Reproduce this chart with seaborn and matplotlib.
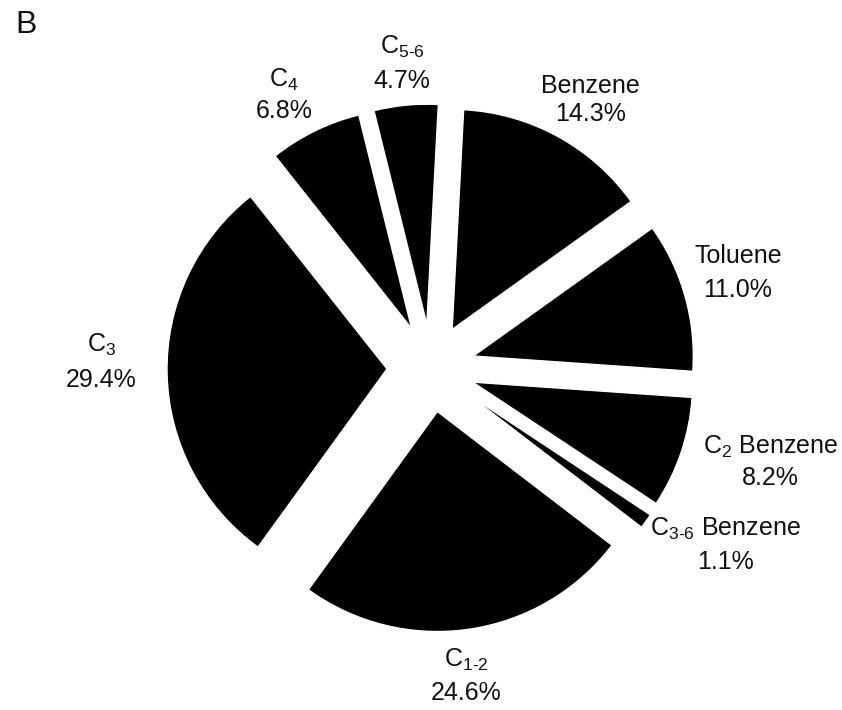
import numpy as np
import matplotlib
matplotlib.use("Agg")
import matplotlib.pyplot as plt
import seaborn as sns

# composition (%), clockwise from the top
names = ["Benzene", "Toluene", r"C$_{2}$ Benzene", r"C$_{3\text{-}6}$ Benzene",
         r"C$_{1\text{-}2}$", r"C$_{3}$", r"C$_{4}$", r"C$_{5\text{-}6}$"]
shares = [14.3, 11.0, 8.2, 1.1, 24.6, 29.4, 6.8, 4.7]
pct_text = ["14.3%", "11.0%", "8.2%", "1.1%", "24.6%", "29.4%", "6.8%", "4.7%"]

# label placement: distance (in radii) from the slice tip, angle nudge (deg), line gap
lab_dist = [1.22, 1.26, 1.40, 1.36, 1.21, 1.30, 1.21, 1.19]
lab_nudge = [-2.4, 1.6, 3.7, 5.1, -2.1, -2.6, 2.5, 0.0]
lab_gap = [1.2, 1.55, 1.3, 1.45, 1.4, 1.5, 1.3, 1.45]

sns.set_theme(style="white")
plt.rcParams["font.family"] = ["Liberation Sans", "DejaVu Sans"]
plt.rcParams["mathtext.fontset"] = "custom"
plt.rcParams["mathtext.rm"] = "Liberation Sans"
plt.rcParams["mathtext.it"] = "Liberation Sans"
plt.rcParams["mathtext.bf"] = "Liberation Sans"

fig = plt.figure(figsize=(8.42, 7.10), dpi=100)
ax = fig.add_axes([0, 0, 1, 1])

wedges, _ = ax.pie(shares, explode=[0.2] * len(shares), colors=["black"] * len(shares),
                   startangle=87, counterclock=False, radius=1.0)

for w, nm, pc, d, nd, ls in zip(wedges, names, pct_text, lab_dist, lab_nudge, lab_gap):
    mid = np.deg2rad((w.theta1 + w.theta2) / 2 + nd)
    cx, cy = w.center
    x = cx + d * w.r * np.cos(mid)
    y = cy + d * w.r * np.sin(mid)
    ax.text(x, y, nm + "\n" + pc, ha="center", va="center", fontsize=18,
            linespacing=ls, color="#111111")

ax.set_xlim(-431 / 220, (842 - 431) / 220)
ax.set_ylim(-(710 - 368) / 220, 368 / 220)
ax.set_aspect("equal")
ax.axis("off")

fig.text(15 / 842, 1 - 10 / 710, "B", fontsize=23, ha="left", va="top", color="#111111")

fig.savefig("out.png", dpi=100)
